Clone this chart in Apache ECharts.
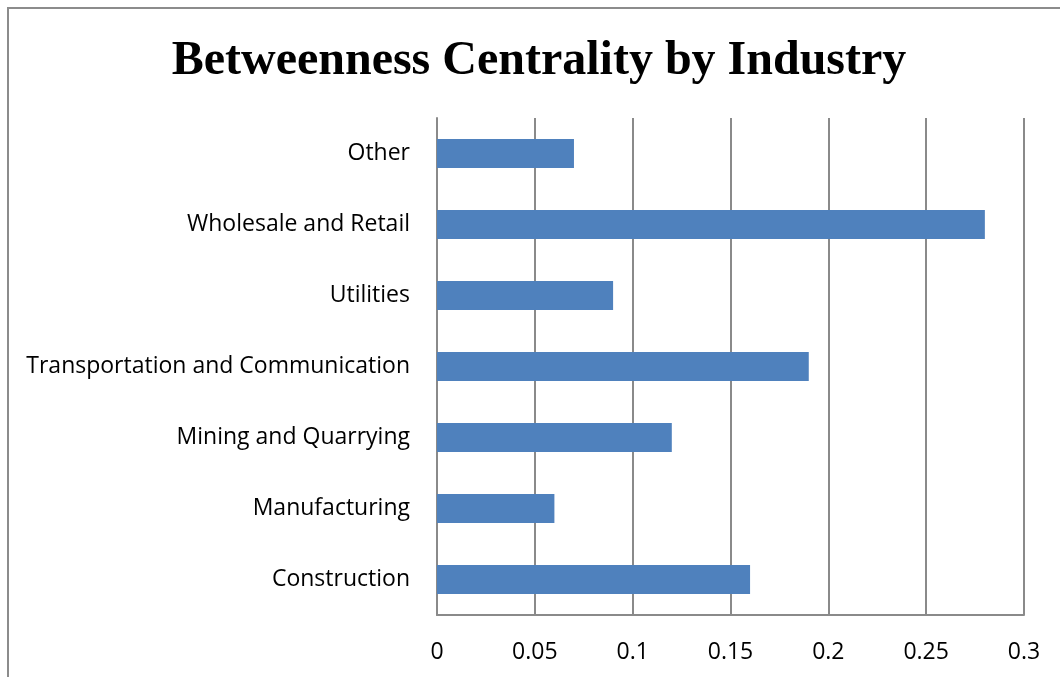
<!DOCTYPE html>
<html><head><meta charset="utf-8">
<script src="https://cdn.jsdelivr.net/npm/echarts@6/dist/echarts.min.js"></script>
<style>html,body{margin:0;padding:0;background:#fff}#c{width:1060px;height:677px}</style>
</head><body><div id="c"></div>
<script>
const categories = ["Construction","Manufacturing","Mining and Quarrying","Transportation and Communication","Utilities","Wholesale and Retail","Other"];
const values = [0.16,0.06,0.12,0.19,0.09,0.28,0.07];
const chart = echarts.init(document.getElementById('c'));
chart.setOption({
  animation:false,
  graphic:[{type:'rect',shape:{x:8,y:8,width:1200,height:800},style:{fill:'none',stroke:'#8c8c8c',lineWidth:2},silent:true}],
  title:{text:'Betweenness Centrality by Industry',left:534,top:33,textAlign:'center',
    textStyle:{fontFamily:'Liberation Serif',fontWeight:'bold',fontSize:48,color:'#000'}},
  grid:{left:437,right:36,top:118,bottom:62,containLabel:false},
  xAxis:{type:'value',min:0,max:0.3,interval:0.05,
    axisLine:{show:true,lineStyle:{color:'#8a8a8a',width:2}},
    axisTick:{show:false},
    splitLine:{show:true,lineStyle:{color:'#8a8a8a',width:2}},
    axisLabel:{margin:26,fontFamily:'Open Sans',fontSize:23,color:'#000',formatter:v=>String(+v.toFixed(2))}},
  yAxis:{type:'category',data:categories,
    axisLine:{show:true,lineStyle:{color:'#8a8a8a',width:2}},
    axisTick:{show:false},
    axisLabel:{margin:27,fontFamily:'Open Sans',fontSize:23,color:'#000'}},
  series:[{type:'bar',data:values,barWidth:29,itemStyle:{color:'#4f81bd'}}]
});
</script></body></html>
